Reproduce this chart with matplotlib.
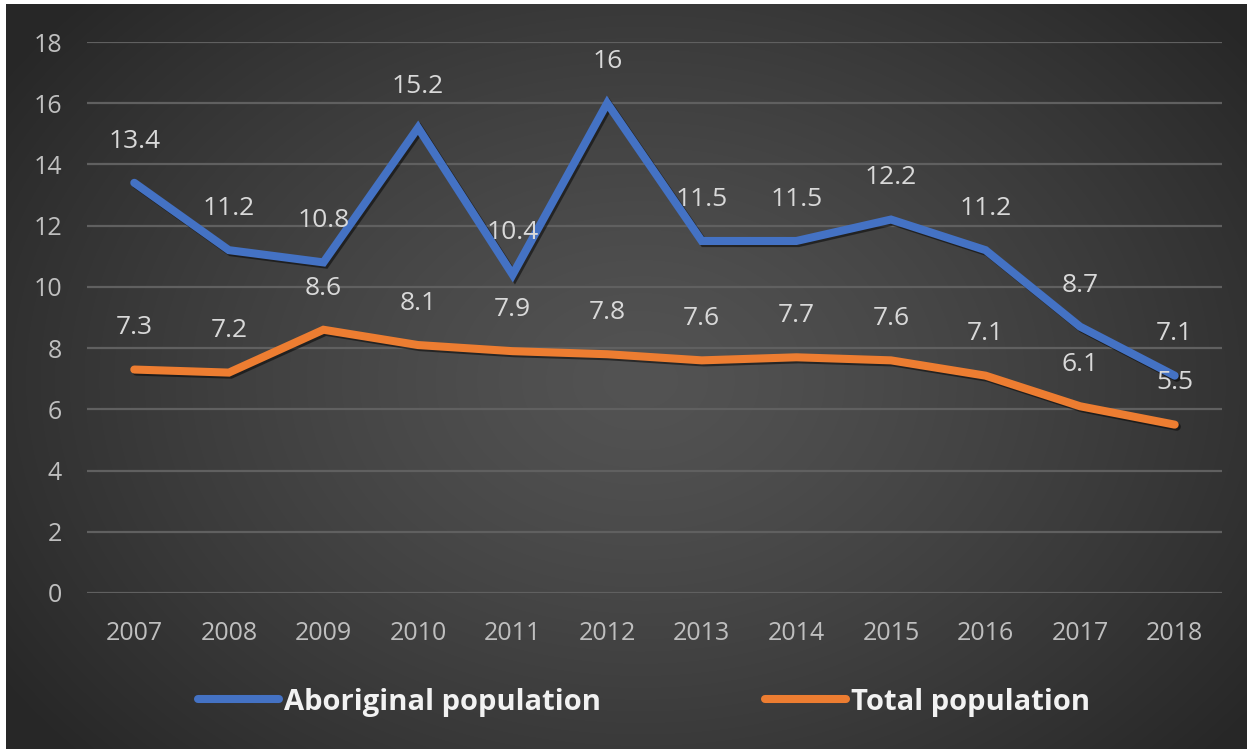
import matplotlib
matplotlib.use("Agg")
import matplotlib.pyplot as plt
import matplotlib.patheffects as pe
import numpy as np

years = ["2007", "2008", "2009", "2010", "2011", "2012",
         "2013", "2014", "2015", "2016", "2017", "2018"]
aboriginal = [13.4, 11.2, 10.8, 15.2, 10.4, 16, 11.5, 11.5, 12.2, 11.2, 8.7, 7.1]
total = [7.3, 7.2, 8.6, 8.1, 7.9, 7.8, 7.6, 7.7, 7.6, 7.1, 6.1, 5.5]
yticks = [0, 2, 4, 6, 8, 10, 12, 14, 16, 18]

plt.rcParams['font.family'] = ['Open Sans', 'DejaVu Sans']

fig = plt.figure(figsize=(12.47, 7.49), dpi=100)

# radial dark background (Excel chart style)
bg = fig.add_axes([0, 0, 1, 1])
yy, xx = np.mgrid[0:749, 0:1247]
r = np.sqrt(((xx - 640) / 760.0) ** 2 + ((yy - 380) / 560.0) ** 2)
r = np.clip(r, 0, 1)
shade = 0.325 - 0.17 * r ** 1.3
img = np.dstack([shade, shade, shade])
bg.imshow(img, aspect='auto', extent=[0, 1, 0, 1], origin='upper')
bg.set_xlim(0, 1)
bg.set_ylim(0, 1)
bg.axis('off')
# white strips on top and left edge of the screenshot
bg.add_patch(plt.Rectangle((0, 1 - 4 / 749), 1, 4 / 749, color='white', lw=0))
bg.add_patch(plt.Rectangle((0, 0), 6 / 1247, 1, color='white', lw=0))

ax = fig.add_axes([87 / 1247, 1 - 593 / 749, (1222 - 87) / 1247, (593 - 42) / 749])
ax.patch.set_alpha(0)
x = np.arange(len(years))

shadow = [pe.SimpleLineShadow(offset=(1.5, -1.5), shadow_color='black', alpha=0.5), pe.Normal()]
ax.plot(x, aboriginal, color='#4472C4', lw=5.8, solid_joinstyle='miter',
        solid_capstyle='round', path_effects=shadow, label='Aboriginal population', zorder=3)
ax.plot(x, total, color='#ED7D31', lw=5.8, solid_joinstyle='miter',
        solid_capstyle='round', path_effects=shadow, label='Total population', zorder=3)

for i in range(len(years)):
    ax.annotate(f"{aboriginal[i]:g}", (x[i], aboriginal[i]), xytext=(0, 30),
                textcoords='offset points', ha='center', va='center',
                fontsize=19, color='#d9d9d9', zorder=4)
    ax.annotate(f"{total[i]:g}", (x[i], total[i]), xytext=(0, 30),
                textcoords='offset points', ha='center', va='center',
                fontsize=19, color='#d9d9d9', zorder=4)

ax.set_xlim(-0.5, len(years) - 0.5)
ax.set_ylim(0, 18)
ax.set_yticks(yticks)
ax.set_xticks(x)
ax.set_xticklabels(years)
ax.grid(axis='y', color='#606060', lw=1.6)
ax.set_axisbelow(True)
for s in ax.spines.values():
    s.set_visible(False)
ax.tick_params(axis='both', length=0, labelsize=18, labelcolor='#bfbfbf')
ax.tick_params(axis='y', pad=18)
ax.tick_params(axis='x', pad=20)

leg = fig.legend(loc='center', bbox_to_anchor=(0.5164, 0.0627), ncol=2, frameon=False,
                 handlelength=2.8, handletextpad=0.17, columnspacing=5.6,
                 prop={'size': 21, 'weight': 'bold'})
for t in leg.get_texts():
    t.set_color('#f2f2f2')
for h in leg.get_lines():
    h.set_linewidth(5.8)
    h.set_path_effects([])

fig.savefig('out.png', dpi=100)
